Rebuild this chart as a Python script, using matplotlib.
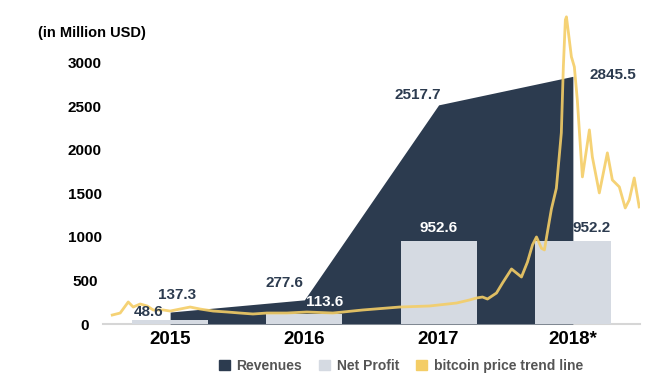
import numpy as np
import matplotlib.pyplot as plt
from matplotlib.patches import Patch

plt.rcParams['font.family'] = ['Liberation Sans', 'DejaVu Sans']

years = ['2015', '2016', '2017', '2018*']
revenues = [137.3, 277.6, 2517.7, 2845.5]
net_profit = [48.6, 113.6, 952.6, 952.2]

# bitcoin trend (fractional year, value in chart units)
btc_year = [2014.569, 2014.628, 2014.688, 2014.725, 2014.777, 2014.829, 2014.874,
            2014.948, 2015.0, 2015.074, 2015.149, 2015.223, 2015.320, 2015.424,
            2015.520, 2015.617, 2015.721, 2015.870, 2016.019, 2016.212, 2016.435,
            2016.710, 2016.933, 2017.134, 2017.230, 2017.283, 2017.327, 2017.364,
            2017.431, 2017.476, 2017.543, 2017.617, 2017.662, 2017.699, 2017.729,
            2017.766, 2017.788, 2017.812, 2017.840, 2017.877, 2017.914, 2017.929,
            2017.944, 2017.952, 2017.967, 2017.989, 2017.996, 2018.011, 2018.033,
            2018.071, 2018.123, 2018.145, 2018.197, 2018.257, 2018.294, 2018.346,
            2018.390, 2018.420, 2018.457, 2018.494]
btc_val = [103, 126, 253, 195, 230, 207, 161,
           161, 149, 172, 195, 172, 149, 138,
           126, 115, 126, 126, 138, 126, 161,
           195, 207, 241, 276, 299, 310, 287,
           356, 471, 632, 540, 713, 908, 1000,
           870, 851, 1070, 1320, 1560, 2195, 2954,
           3494, 3529, 3345, 3069, 3034, 2954, 2575,
           1690, 2230, 1920, 1506, 1966, 1655, 1575,
           1333, 1425, 1678, 1345]

navy = '#2c3b4f'
grey = '#d5dae2'
gold = '#f4cd66'
label_c = '#2c3b4f'

fig = plt.figure(figsize=(6.62, 3.77), dpi=100)
ax = fig.add_axes([103 / 662, 53 / 377, 537 / 662, 309 / 377])

x = np.arange(len(years))
ax.fill_between(x, revenues, 0, color=navy, linewidth=0, zorder=1)
ax.bar(x, net_profit, width=0.565, color=grey, linewidth=0, zorder=2)
btc_x = np.array(btc_year) - 2015
ax.plot(btc_x, btc_val, color=gold, lw=2, alpha=0.9, zorder=3, solid_joinstyle='round')

ax.set_xlim(-0.5, 3.5)
ax.set_ylim(0, 3550)
ax.set_yticks(range(0, 3001, 500))
ax.set_xticks(x)
ax.set_xticklabels(years, fontsize=13.5, fontweight='bold')
for t in ax.get_yticklabels():
    t.set_fontsize(11)
    t.set_fontweight('bold')
    t.set_horizontalalignment('center')
ax.tick_params(axis='y', length=0, pad=13)
ax.tick_params(axis='x', length=0, pad=5)
for s in ['top', 'right', 'left']:
    ax.spines[s].set_visible(False)
ax.spines['bottom'].set_color('#d6d6d6')
ax.spines['bottom'].set_linewidth(1.5)
ax.spines['bottom'].set_zorder(0)

# value labels
lab = dict(fontsize=11, fontweight='bold', ha='center', va='center',
           textcoords='offset pixels', zorder=5)
ax.annotate('137.3', (x[0], revenues[0]), xytext=(7, 17), color=label_c, **lab)
ax.annotate('48.6', (x[0], net_profit[0]), xytext=(-22, 8), color=label_c, **lab)
ax.annotate('277.6', (x[1], revenues[1]), xytext=(-20, 17), color=label_c, **lab)
ax.annotate('113.6', (x[1], net_profit[1]), xytext=(20, 12), color='white', **lab)
ax.annotate('2517.7', (x[2], revenues[2]), xytext=(-21, 10), color=label_c, **lab)
ax.annotate('952.6', (x[2], net_profit[2]), xytext=(0, 13), color='white', **lab)
ax.annotate('2845.5', (x[3], revenues[3]), xytext=(40, 1), color=label_c, **lab)
ax.annotate('952.2', (x[3], net_profit[3]), xytext=(19, 13), color=label_c, **lab)

fig.text(92 / 662, 1 - 33 / 377, '(in Million USD)', fontsize=10.5,
         fontweight='bold', ha='center', va='center')

handles = [Patch(color=navy), Patch(color=grey), Patch(color=gold)]
fig.legend(handles, ['Revenues', 'Net Profit', 'bitcoin price trend line'],
           loc='center', bbox_to_anchor=(401 / 662, 1 - 366 / 377), ncol=3,
           frameon=False, handlelength=0.8, handleheight=0.8, handletextpad=0.5,
           columnspacing=1.2, prop={'size': 10, 'weight': 'bold'},
           labelcolor='#555555')

fig.savefig('out.png', dpi=100)
